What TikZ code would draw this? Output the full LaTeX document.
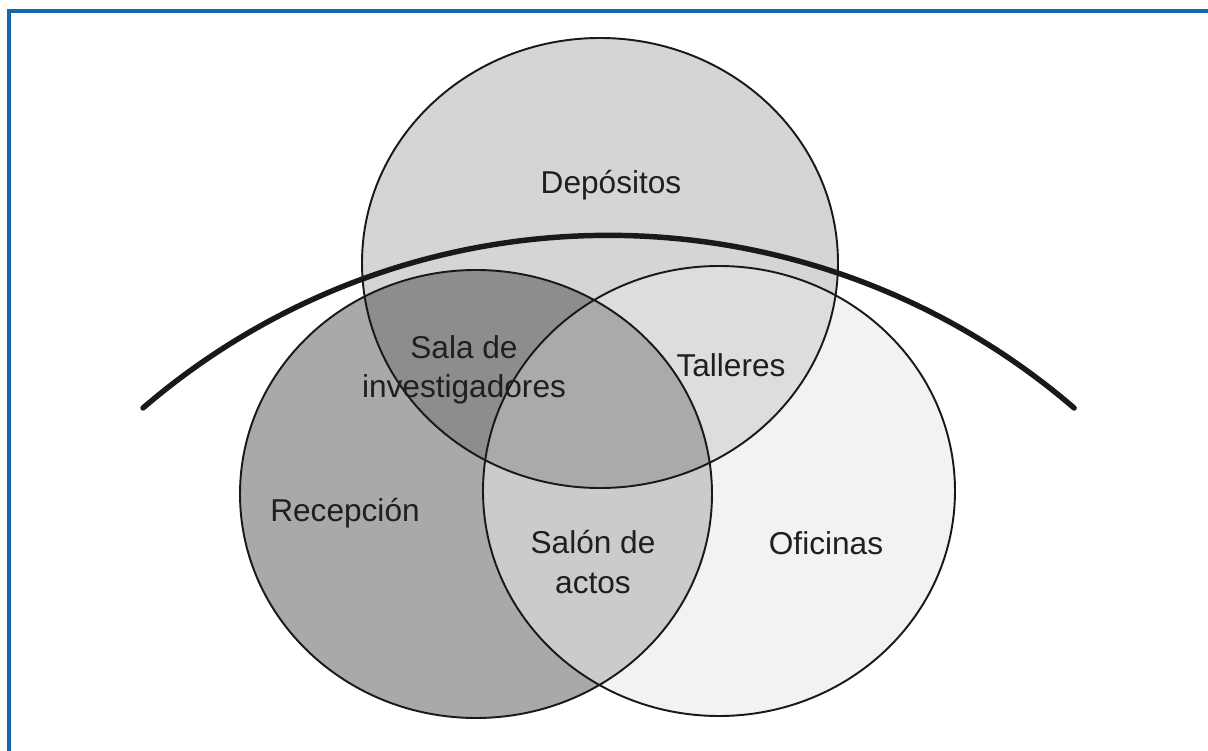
\documentclass[tikz,border=0pt]{standalone}
\usepackage{fontspec}
\setmainfont{Liberation Sans}
\usepackage{xcolor}
\usepackage{tikz}
\usetikzlibrary{positioning}
\definecolor{frameblue}{RGB}{22,104,172}
\definecolor{topgray}{RGB}{214,212,212}
\definecolor{leftgray}{RGB}{171,168,168}
\definecolor{rightgray}{RGB}{242,242,243}
\definecolor{salagray}{RGB}{143,140,140}
\definecolor{tallgray}{RGB}{221,221,221}
\definecolor{salongray}{RGB}{204,202,202}
\definecolor{midgray}{RGB}{172,169,169}

\begin{document}
\begin{tikzpicture}[x=0.02cm, y=0.02cm,
    lbl/.style={font=\fontsize{18}{22.5}\selectfont, align=center, text=black!88},
    ring/.style={draw=black!90, line width=1.1pt}]
\useasboundingbox (0,0) rectangle (1208,751);
\fill[white] (0,0) rectangle (1208,751);

\coordinate (ctop) at (600,488);
\coordinate (cleft) at (476,257);
\coordinate (cright) at (719,260);

% plain areas
\fill[topgray] (ctop) ellipse [x radius=238, y radius=225];
\fill[leftgray] (cleft) ellipse [x radius=236, y radius=224];
\fill[rightgray] (cright) ellipse [x radius=236, y radius=225];

% overlaps
\begin{scope}
    \clip (cleft) ellipse [x radius=236, y radius=224];
    \fill[salongray] (cright) ellipse [x radius=236, y radius=225];
\end{scope}
\begin{scope}
    \clip (ctop) ellipse [x radius=238, y radius=225];
    \fill[salagray] (cleft) ellipse [x radius=236, y radius=224];
    \fill[tallgray] (cright) ellipse [x radius=236, y radius=225];
    \clip (cleft) ellipse [x radius=236, y radius=224];
    \fill[midgray] (cright) ellipse [x radius=236, y radius=225];
\end{scope}

\draw[ring] (ctop) ellipse [x radius=238, y radius=225];
\draw[ring] (cleft) ellipse [x radius=236, y radius=224];
\draw[ring] (cright) ellipse [x radius=236, y radius=225];

% the big arc
\draw[line width=3.1pt, line cap=round, black!90]
    (143,343) arc [start angle=130.7, end angle=49.3, radius=714];

\node[lbl] (dep) at (611,566) {Depósitos};
\node[lbl] (sala) at (464,381) {Sala de\\investigadores};
\node[lbl] (tall) at (731,386) {Talleres};
\node[lbl] (rec) at (345,238) {Recepción};
\node[lbl] (salon) at (593,189) {Salón de\\actos};
\node[lbl] (ofi) at (826,208) {Oficinas};

\draw[frameblue, line width=2.3pt] (9,0) -- (9,740) -- (1208,740);
\end{tikzpicture}
\end{document}
